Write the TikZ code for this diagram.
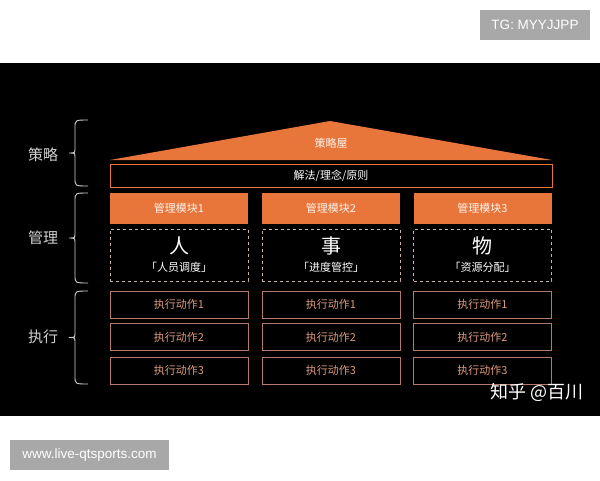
\documentclass[tikz,border=0pt]{standalone}
\usepackage{fontspec}
\setmainfont{Noto Sans CJK SC}
\newfontfamily\latinsans{Liberation Sans}
\definecolor{roof}{HTML}{E8753A}
\definecolor{actborder}{HTML}{B87A68}
\definecolor{acttext}{HTML}{DE9A7E}
\definecolor{dashc}{HTML}{C8B2AA}
\definecolor{lbl}{HTML}{D0D0D0}
\definecolor{wm}{HTML}{A8A8A8}
\tikzset{
  px/.style={x=1pt,y=-1pt},
  modbox/.style={fill=roof,draw=none,minimum width=138pt,minimum height=31pt,inner sep=0pt,text=white!92!roof,font=\fontsize{11}{13}\selectfont},
  dashbox/.style={draw=dashc,dashed,line width=0.8pt,minimum width=138pt,minimum height=52pt,inner sep=0pt},
  actbox/.style={draw=actborder,line width=0.8pt,minimum width=138pt,minimum height=27pt,inner sep=0pt,text=acttext,font=\fontsize{11}{13}\selectfont},
  sidelabel/.style={text=lbl,font=\fontsize{15}{17}\selectfont},
  bracestyle/.style={draw=lbl,line width=0.9pt},
  bigchar/.style={text=white,font=\fontsize{20}{22}\selectfont},
  subtext/.style={text=white,font=\fontsize{11}{13}\selectfont},
  wmbox/.style={fill=wm,text=white,inner sep=0pt,font=\latinsans\fontsize{13.5}{15}\selectfont}
}
\begin{document}
\begin{tikzpicture}[px]
\useasboundingbox (0,0) rectangle (600,480);
\fill[white] (0,0) rectangle (600,480);
\fill[black] (0,63) rectangle (600,416);
% watermarks
\node[wmbox,minimum width=110pt,minimum height=30pt] (tg) at (535,25) {TG: MYYJJPP};
\node[wmbox,minimum width=159pt,minimum height=30pt] (www) at (89.5,455) {www.live-qtsports.com};
% roof
\fill[roof] (110,160) -- (330,121) -- (552,160) -- cycle;
\node[text=white!92!roof,font=\fontsize{11}{13}\selectfont] (roofl) at (331,143) {策略屋};
\node[draw=roof,line width=0.9pt,fill=black,minimum width=442pt,minimum height=23pt,inner sep=0pt,text=white,font=\fontsize{11}{13}\selectfont] (jf) at (331,175.5) {解法/理念/原则};
% modules
\node[modbox] (m1) at (179,208.5) {管理模块1};
\node[modbox] (m2) at (331,208.5) {管理模块2};
\node[modbox] (m3) at (482.5,208.5) {管理模块3};
\node[dashbox] (d1) at (179,255) {};
\node[dashbox] (d2) at (331,255) {};
\node[dashbox] (d3) at (482.5,255) {};
\node[bigchar] (c1) at (179,246) {人};
\node[bigchar] (c2) at (331,246) {事};
\node[bigchar] (c3) at (482.5,246) {物};
\node[subtext] (s1) at (179,267) {「人员调度」};
\node[subtext] (s2) at (331,267) {「进度管控」};
\node[subtext] (s3) at (482.5,267) {「资源分配」};
% actions
\foreach \c/\x in {1/179,2/331,3/482.5}{
  \node[actbox] (a1\c) at (\x,304.5) {执行动作1};
  \node[actbox] (a2\c) at (\x,337) {执行动作2};
  \node[actbox] (a3\c) at (\x,370.5) {执行动作3};
}
% side labels
\node[sidelabel] (l1) at (43,155) {策略};
\node[sidelabel] (l2) at (43,238) {管理};
\node[sidelabel] (l3) at (43,337) {执行};
% braces
\foreach \t/\b in {120/186,193/283,291/384}{
  \pgfmathsetmacro{\m}{(\t+\b)/2}
  \draw[bracestyle] (88,\t) .. controls (75,\t) .. (75,\t+8) -- (75,\m-5) .. controls (75,\m) .. (69,\m) .. controls (75,\m) .. (75,\m+5) -- (75,\b-8) .. controls (75,\b) .. (88,\b);
}
\node[text=white,font=\fontsize{18}{20}\selectfont] (zh) at (537,392) {知乎 @百川};
\end{tikzpicture}
\end{document}
